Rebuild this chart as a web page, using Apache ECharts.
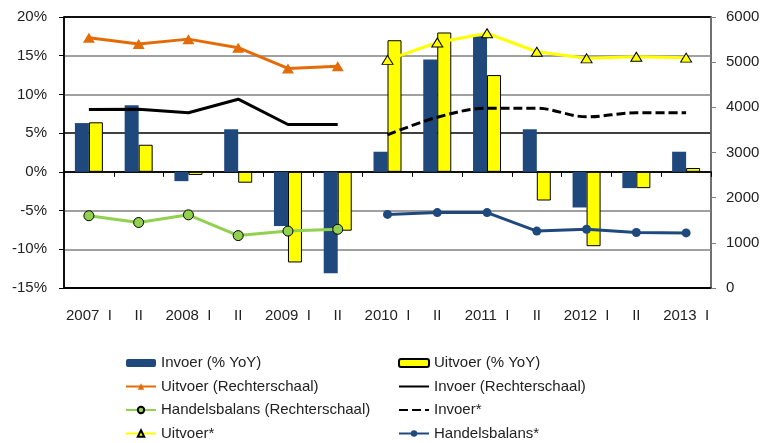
<!DOCTYPE html>
<html>
<head>
<meta charset="utf-8">
<script src="https://cdn.jsdelivr.net/npm/echarts@6/dist/echarts.min.js"></script>
<style>
html,body{margin:0;padding:0;background:#fff;}
#chart{width:764px;height:443px;}
</style>
</head>
<body>
<div id="chart"></div>
<script>
var categories = ['2007  I','II','2008  I','II','2009  I','II','2010  I','II','2011  I','II','2012  I','II','2013  I'];
// linkeras, % YoY
var invoerYoY  = [6.3, 8.6, -1.2, 5.5, -7.0, -13.1, 2.6, 14.5, 17.5, 5.5, -4.6, -2.1, 2.6];
var uitvoerYoY = [6.4, 3.5, -0.4, -1.4, -11.7, -7.6, 17.0, 18.0, 12.5, -3.7, -9.6, -2.1, 0.5];
// rechteras
var uitvoerR   = [5540, 5400, 5510, 5320, 4860, 4910, null, null, null, null, null, null, null];
var invoerR    = [3950, 3960, 3880, 4180, 3620, 3620, null, null, null, null, null, null, null];
var handelsR   = [1600, 1450, 1620, 1160, 1260, 1300, null, null, null, null, null, null, null];
var invoerStar = [null, null, null, null, null, null, 3390, 3780, 3980, 3980, 3790, 3880, 3880];
var uitvoerStar= [null, null, null, null, null, null, 5050, 5435, 5640, 5230, 5085, 5120, 5100];
var handelsStar= [null, null, null, null, null, null, 1630, 1670, 1670, 1260, 1300, 1230, 1220];

var font = 'Liberation Sans';
var txt = {fontFamily: font, fontSize: 15, color: '#222'};

var chart = echarts.init(document.getElementById('chart'));
var legendBase = {
	orient: 'vertical',
	top: 355,
	padding: 0,
	itemWidth: 30,
	itemHeight: 8,
	itemGap: 7.5,
	textStyle: {fontFamily: font, fontSize: 15, color: '#222', lineHeight: 16},
	selectedMode: false
};
var noMarker = {opacity: 0};
var option = {
	animation: false,
	grid: {left: 64, right: 53, top: 17, bottom: 155, show: true, borderColor: '#000', borderWidth: 1.5},
	legend: [
		Object.assign({}, legendBase, {left: 125, data: ['Invoer (% YoY)', 'Uitvoer (Rechterschaal)', 'Handelsbalans (Rechterschaal)', 'Uitvoer*']}),
		Object.assign({}, legendBase, {left: 398, data: [
			'Uitvoer (% YoY)',
			{name: 'Invoer (Rechterschaal)', itemStyle: noMarker},
			{name: 'Invoer*', itemStyle: noMarker},
			'Handelsbalans*'
		]})
	],
	xAxis: [{
		type: 'category',
		data: categories,
		position: 'bottom',
		axisLine: {onZero: false, lineStyle: {color: '#000', width: 1.5}},
		axisTick: {show: false},
		axisLabel: Object.assign({margin: 20, interval: 0}, txt)
	}, {
		type: 'category',
		data: categories,
		position: 'bottom',
		axisLine: {onZero: true, onZeroAxisIndex: 0, lineStyle: {color: '#000', width: 1.5}},
		axisTick: {show: true, length: 5, lineStyle: {color: '#000', width: 1}},
		axisLabel: {show: false}
	}],
	yAxis: [{
		type: 'value',
		min: -15, max: 20, interval: 5,
		axisLine: {show: true, lineStyle: {color: '#000', width: 1.5}},
		axisTick: {show: true, length: 5, lineStyle: {color: '#000'}},
		axisLabel: Object.assign({margin: 17, formatter: '{value}%'}, txt),
		splitLine: {lineStyle: {color: ['#000', '#808080', '#808080', '#000', '#000', '#808080', '#808080', '#000'], width: 1.5}}
	}, {
		type: 'value',
		min: 0, max: 6000, interval: 1000,
		position: 'right',
		axisLine: {show: true, lineStyle: {color: '#808080', width: 1.5}},
		axisTick: {show: true, length: 5, lineStyle: {color: '#808080'}},
		axisLabel: Object.assign({margin: 15, formatter: function (v) { return String(v); }}, txt),
		splitLine: {show: false}
	}],
	series: [{
		name: 'Invoer (% YoY)',
		type: 'bar',
		data: invoerYoY,
		barWidth: 14,
		barGap: '0%',
		itemStyle: {color: '#1f497d'}
	}, {
		name: 'Uitvoer (% YoY)',
		type: 'bar',
		data: uitvoerYoY,
		barWidth: 14,
		barGap: '0%',
		itemStyle: {color: '#ffff00', borderColor: '#000', borderWidth: 1}
	}, {
		name: 'Uitvoer (Rechterschaal)',
		type: 'line',
		yAxisIndex: 1,
		data: uitvoerR,
		symbol: 'triangle',
		symbolSize: [12, 10],
		lineStyle: {color: '#e36c09', width: 3},
		itemStyle: {color: '#e36c09'},
		z: 5
	}, {
		name: 'Invoer (Rechterschaal)',
		type: 'line',
		yAxisIndex: 1,
		data: invoerR,
		symbol: 'none',
		lineStyle: {color: '#000', width: 3},
		itemStyle: {color: '#000'},
		z: 5
	}, {
		name: 'Handelsbalans (Rechterschaal)',
		type: 'line',
		yAxisIndex: 1,
		data: handelsR,
		symbol: 'circle',
		symbolSize: 10,
		lineStyle: {color: '#92d050', width: 3},
		itemStyle: {color: '#92d050', borderColor: '#000', borderWidth: 1},
		z: 5
	}, {
		name: 'Invoer*',
		type: 'line',
		yAxisIndex: 1,
		data: invoerStar,
		symbol: 'none',
		smooth: 0.35,
		lineStyle: {color: '#000', width: 3, type: [9, 4]},
		itemStyle: {color: '#000'},
		z: 5
	}, {
		name: 'Uitvoer*',
		type: 'line',
		yAxisIndex: 1,
		data: uitvoerStar,
		symbol: 'triangle',
		symbolSize: [11, 9],
		lineStyle: {color: '#ffff00', width: 3},
		itemStyle: {color: '#ffff00', borderColor: '#000', borderWidth: 1},
		z: 5
	}, {
		name: 'Handelsbalans*',
		type: 'line',
		yAxisIndex: 1,
		data: handelsStar,
		symbol: 'circle',
		symbolSize: 9,
		lineStyle: {color: '#1f497d', width: 3},
		itemStyle: {color: '#1f497d'},
		z: 5
	}]
};
chart.setOption(option);
</script>
</body>
</html>
